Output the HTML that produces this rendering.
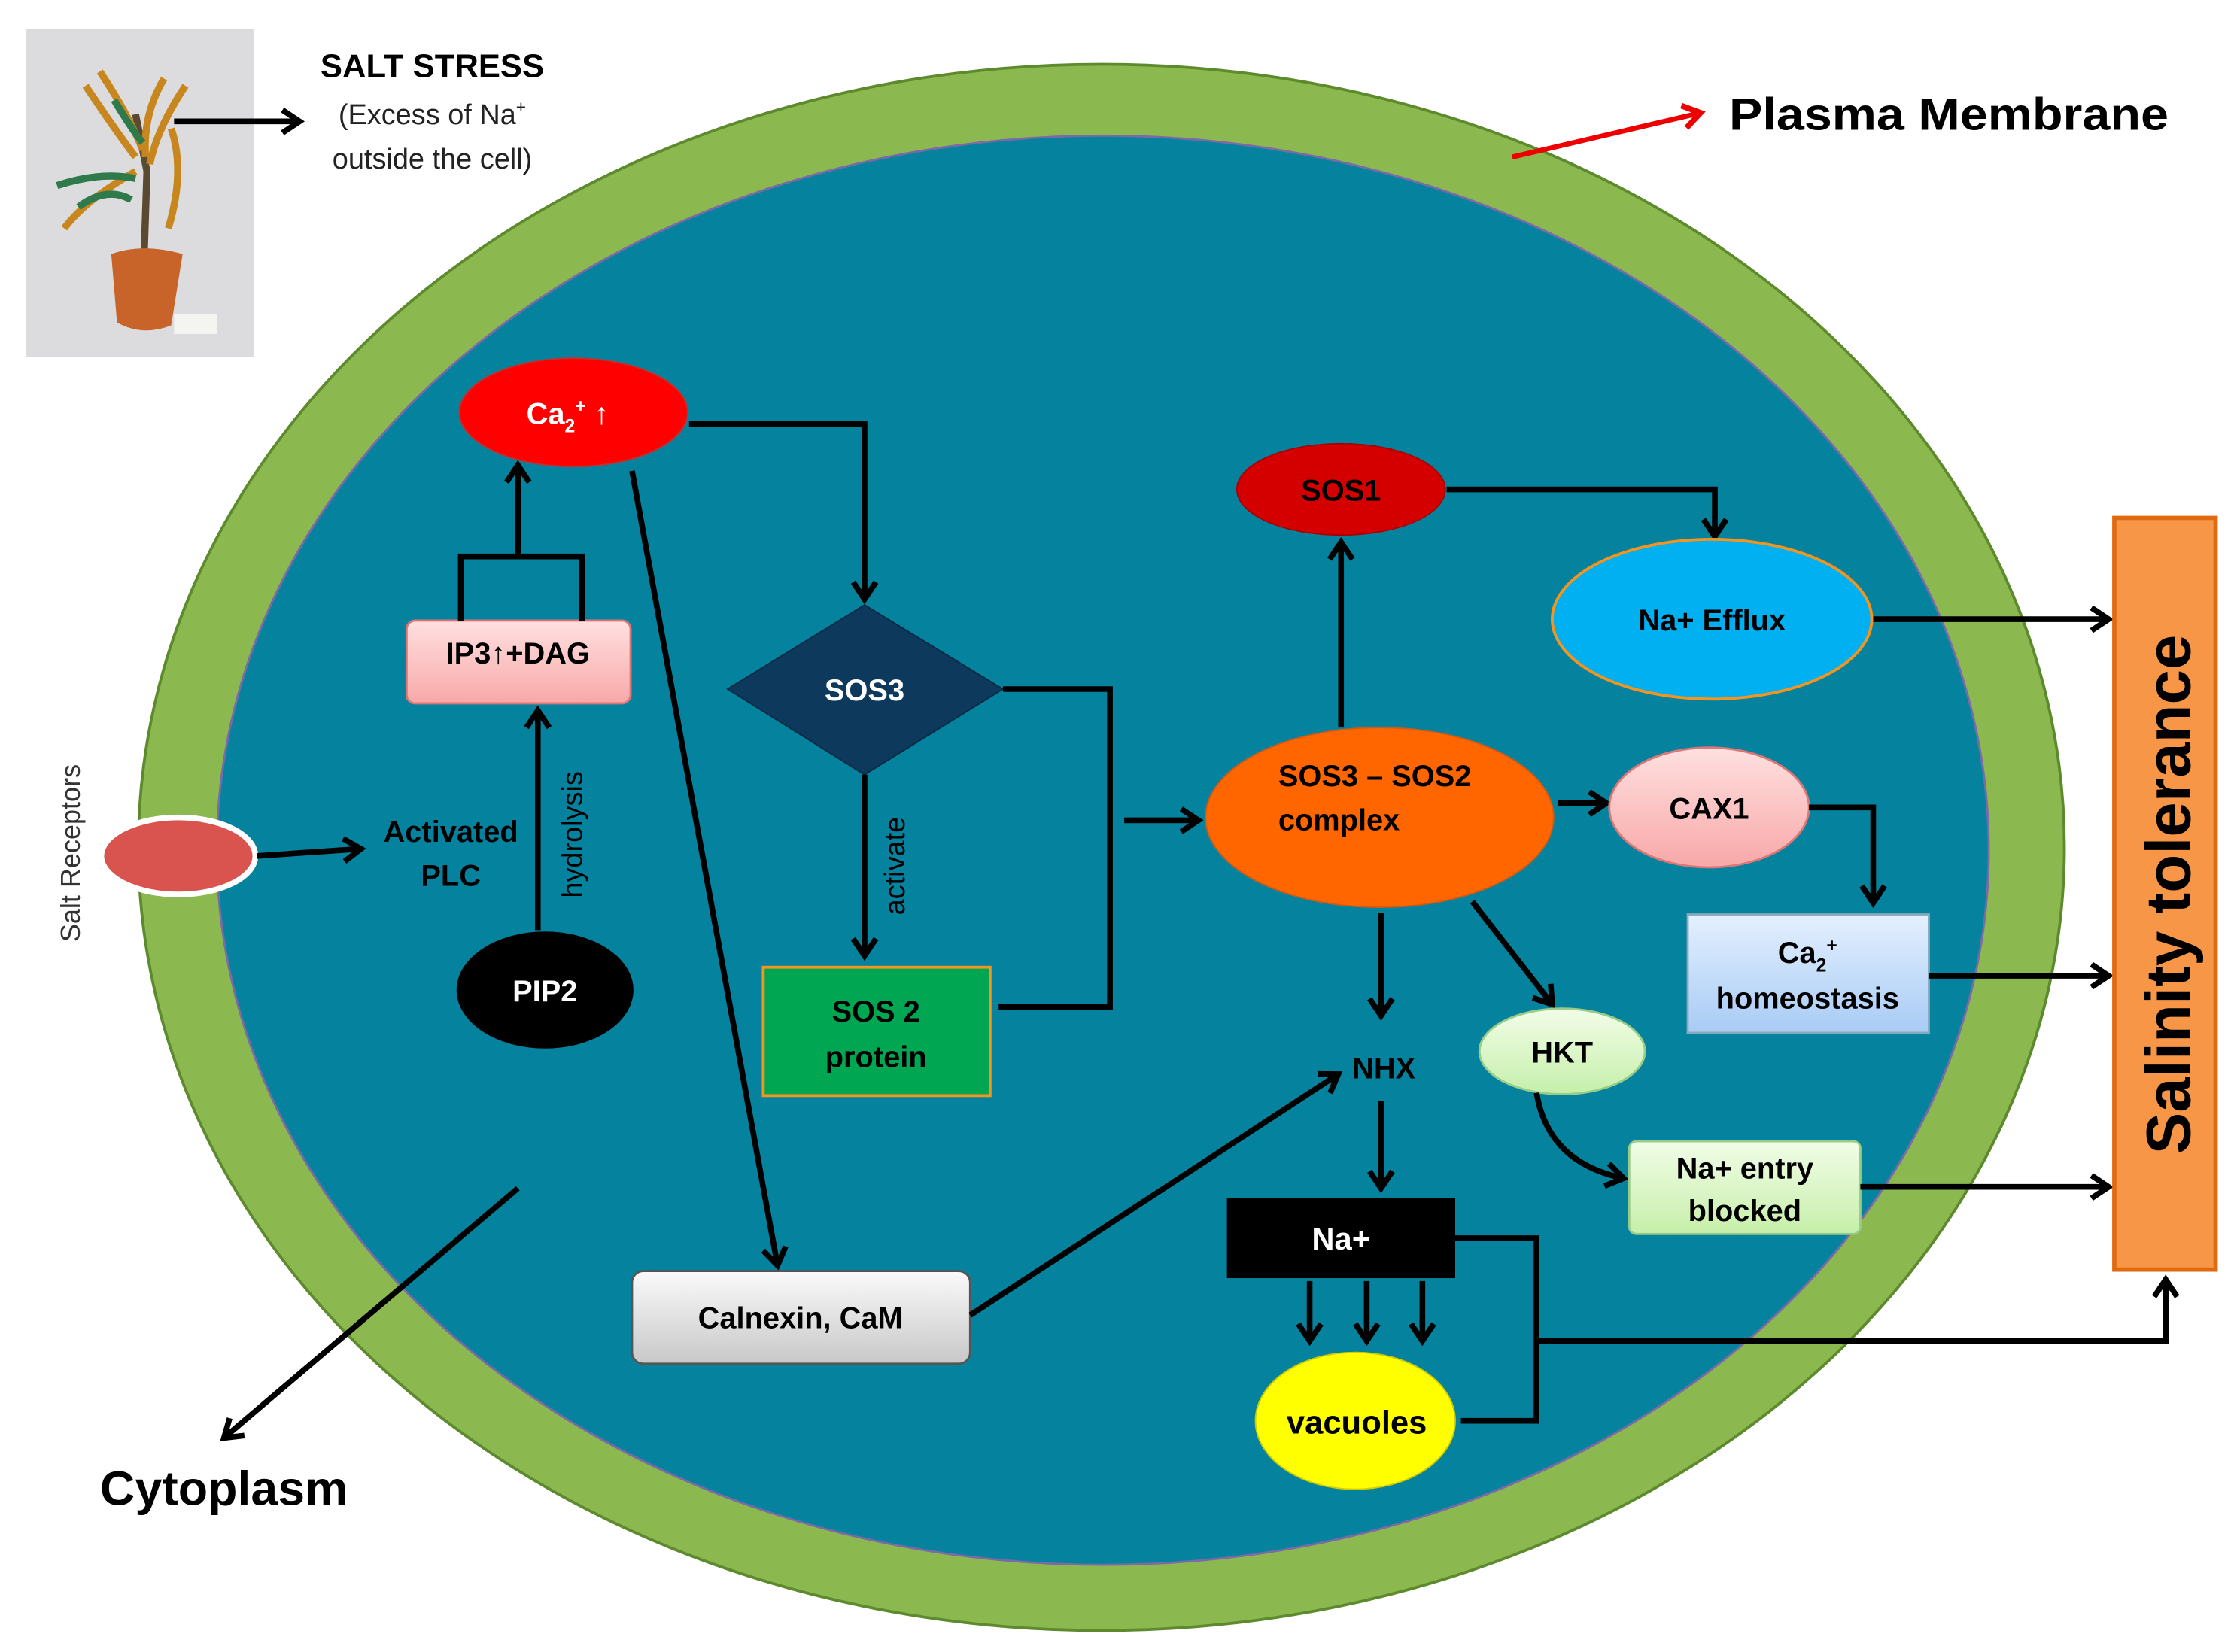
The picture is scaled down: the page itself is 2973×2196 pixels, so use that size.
<!DOCTYPE html>
<html><head><meta charset="utf-8"><style>
html,body{margin:0;padding:0;background:#fff}
svg{display:block}
text{font-family:"Liberation Sans",sans-serif}
</style></head><body>
<svg width="2973" height="2196" viewBox="0 0 1568 1158" xmlns="http://www.w3.org/2000/svg">
<defs>
<marker id="ab" markerWidth="22" markerHeight="22" refX="18" refY="11" orient="auto" markerUnits="userSpaceOnUse"><path d="M6,3 L18,11 L6,19" fill="none" stroke="#000" stroke-width="4"/></marker>
<marker id="ar" markerWidth="22" markerHeight="22" refX="18" refY="11" orient="auto" markerUnits="userSpaceOnUse"><path d="M6,3 L18,11 L6,19" fill="none" stroke="#e00" stroke-width="4"/></marker>
<linearGradient id="pk" x1="0" y1="0" x2="0" y2="1"><stop offset="0" stop-color="#ffe0e0"/><stop offset="1" stop-color="#f8a8a8"/></linearGradient>
<linearGradient id="gy" x1="0" y1="0" x2="0" y2="1"><stop offset="0" stop-color="#fafafa"/><stop offset="1" stop-color="#c8c8c8"/></linearGradient>
<linearGradient id="lb" x1="0" y1="0" x2="0" y2="1"><stop offset="0" stop-color="#e4f0ff"/><stop offset="1" stop-color="#a8cbf5"/></linearGradient>
<linearGradient id="lg" x1="0" y1="0" x2="0" y2="1"><stop offset="0" stop-color="#f2fde8"/><stop offset="1" stop-color="#c6efaa"/></linearGradient>
</defs>

<!-- plant photo -->
<rect x="18" y="20" width="160" height="230" fill="#dcdcde"/>
<path d="M100,210 L103,120 L95,80" stroke="#5a4a30" stroke-width="5" fill="none"/>
<path d="M78,178 Q100,170 128,178 L120,228 Q100,236 82,226 Z" fill="#c8642a"/>
<path d="M60,60 Q80,90 95,110 M70,50 Q90,80 100,105 M115,55 Q100,80 102,110 M130,60 Q110,90 105,115 M120,90 Q130,120 118,160 M95,120 Q60,140 45,160" stroke="#c8871e" stroke-width="5" fill="none"/>
<path d="M40,130 Q70,120 95,125 M55,145 Q75,130 92,140 M80,70 Q92,90 100,100" stroke="#2e7a4a" stroke-width="5" fill="none"/>
<rect x="122" y="220" width="30" height="14" fill="#f4f4f0"/>
<line x1="122" y1="85" x2="210" y2="85" stroke="#000" stroke-width="4" marker-end="url(#ab)"/>
<text x="303" y="54" font-size="23" font-weight="bold" text-anchor="middle">SALT STRESS</text>
<text x="303" y="87" font-size="20" text-anchor="middle" fill="#222">(Excess of Na<tspan font-size="12" dy="-8">+</tspan></text>
<text x="303" y="118" font-size="20" text-anchor="middle" fill="#222">outside the cell)</text>

<!-- cell -->
<ellipse cx="772" cy="594" rx="675" ry="549" fill="#8cb94f" stroke="#5e8a2e" stroke-width="2"/>
<ellipse cx="773" cy="596" rx="621" ry="501" fill="#05839e" stroke="#7a6aa8" stroke-width="1.5"/>

<!-- plasma membrane -->
<line x1="1060" y1="110" x2="1192" y2="79" stroke="#e00" stroke-width="3.5" marker-end="url(#ar)"/>
<text x="1212" y="91" font-size="32" font-weight="bold" textLength="308" lengthAdjust="spacingAndGlyphs">Plasma Membrane</text>

<!-- salt receptors -->
<text transform="translate(56,598) rotate(-90)" font-size="19" text-anchor="middle" fill="#333">Salt Receptors</text>
<ellipse cx="125" cy="600" rx="54" ry="27" fill="#d9534f" stroke="#fff" stroke-width="4"/>
<line x1="180" y1="600" x2="253" y2="595" stroke="#000" stroke-width="4" marker-end="url(#ab)"/>
<text x="316" y="590" font-size="21" font-weight="bold" text-anchor="middle">Activated</text>
<text x="316" y="621" font-size="21" font-weight="bold" text-anchor="middle">PLC</text>

<!-- PIP2 -->
<ellipse cx="382" cy="694" rx="62" ry="41" fill="#000"/>
<text x="382" y="702" font-size="21" font-weight="bold" fill="#fff" text-anchor="middle">PIP2</text>
<line x1="377" y1="652" x2="377" y2="498" stroke="#000" stroke-width="4" marker-end="url(#ab)"/>
<text transform="translate(408,585) rotate(-90)" font-size="20" text-anchor="middle" fill="#000">hydrolysis</text>

<!-- IP3 -->
<rect x="285" y="435" width="157" height="58" rx="6" fill="url(#pk)" stroke="#d77" stroke-width="1.5"/>
<text x="363" y="465" font-size="21" font-weight="bold" text-anchor="middle">IP3↑+DAG</text>
<path d="M323,435 V390 H408 V435" fill="none" stroke="#000" stroke-width="4"/>
<line x1="363" y1="390" x2="363" y2="326" stroke="#000" stroke-width="4" marker-end="url(#ab)"/>

<!-- Ca2+ -->
<ellipse cx="402" cy="289" rx="80" ry="38" fill="#f00" stroke="#b33" stroke-width="1"/>
<text x="398" y="297" font-size="21" font-weight="bold" fill="#fff" text-anchor="middle">Ca<tspan font-size="13" dy="6">2</tspan><tspan font-size="13" dy="-14">+</tspan><tspan dy="8"> ↑</tspan></text>
<path d="M483,297 H606 V420" fill="none" stroke="#000" stroke-width="4" marker-end="url(#ab)"/>
<line x1="443" y1="330" x2="545" y2="887" stroke="#000" stroke-width="4" marker-end="url(#ab)"/>

<!-- SOS3 -->
<polygon points="510,483 606,424 703,483 606,543" fill="#0d3a5c" stroke="#0a2a44" stroke-width="1"/>
<text x="606" y="491" font-size="21" font-weight="bold" fill="#fff" text-anchor="middle">SOS3</text>
<line x1="606" y1="543" x2="606" y2="670" stroke="#000" stroke-width="4" marker-end="url(#ab)"/>
<text transform="translate(634,607) rotate(-90)" font-size="20" text-anchor="middle">activate</text>
<rect x="535" y="678" width="159" height="90" fill="#00a651" stroke="#f7941d" stroke-width="2"/>
<text x="614" y="716" font-size="21" font-weight="bold" text-anchor="middle">SOS 2</text>
<text x="614" y="748" font-size="21" font-weight="bold" text-anchor="middle">protein</text>
<path d="M703,483 H778 V706 H700" fill="none" stroke="#000" stroke-width="4"/>
<line x1="788" y1="575" x2="840" y2="575" stroke="#000" stroke-width="4" marker-end="url(#ab)"/>

<!-- complex -->
<ellipse cx="967" cy="573" rx="122" ry="63" fill="#ff6600" stroke="#d45a10" stroke-width="1"/>
<text x="896" y="551" font-size="21" font-weight="bold">SOS3 – SOS2</text>
<text x="896" y="582" font-size="21" font-weight="bold">complex</text>
<line x1="940" y1="510" x2="940" y2="380" stroke="#000" stroke-width="4" marker-end="url(#ab)"/>
<ellipse cx="940" cy="343" rx="73" ry="32" fill="#d40000" stroke="#a00" stroke-width="1"/>
<text x="940" y="351" font-size="21" font-weight="bold" text-anchor="middle">SOS1</text>
<path d="M1014,343 H1202 V376" fill="none" stroke="#000" stroke-width="4" marker-end="url(#ab)"/>
<ellipse cx="1200" cy="434" rx="112" ry="56" fill="#00b0f0" stroke="#f7941d" stroke-width="2"/>
<text x="1200" y="442" font-size="21" font-weight="bold" text-anchor="middle">Na+ Efflux</text>
<line x1="1313" y1="434" x2="1478" y2="434" stroke="#000" stroke-width="4" marker-end="url(#ab)"/>

<line x1="1092" y1="563" x2="1126" y2="563" stroke="#000" stroke-width="4" marker-end="url(#ab)"/>
<ellipse cx="1198" cy="566" rx="70" ry="42" fill="url(#pk)" stroke="#d77" stroke-width="1.5"/>
<text x="1198" y="574" font-size="21" font-weight="bold" text-anchor="middle">CAX1</text>
<path d="M1268,566 H1313 V633" fill="none" stroke="#000" stroke-width="4" marker-end="url(#ab)"/>
<rect x="1183" y="641" width="169" height="83" fill="url(#lb)" stroke="#8ab" stroke-width="1.5"/>
<text x="1267" y="675" font-size="21" font-weight="bold" text-anchor="middle">Ca<tspan font-size="13" dy="6">2</tspan><tspan font-size="13" dy="-14">+</tspan></text>
<text x="1267" y="707" font-size="21" font-weight="bold" text-anchor="middle">homeostasis</text>
<line x1="1352" y1="684" x2="1478" y2="684" stroke="#000" stroke-width="4" marker-end="url(#ab)"/>

<line x1="968" y1="640" x2="968" y2="712" stroke="#000" stroke-width="4" marker-end="url(#ab)"/>
<text x="970" y="756" font-size="21" font-weight="bold" text-anchor="middle">NHX</text>
<line x1="1032" y1="632" x2="1088" y2="704" stroke="#000" stroke-width="4" marker-end="url(#ab)"/>
<ellipse cx="1095" cy="737" rx="58" ry="30" fill="url(#lg)" stroke="#9c8" stroke-width="1.5"/>
<text x="1095" y="745" font-size="21" font-weight="bold" text-anchor="middle">HKT</text>
<path d="M1077,766 Q1085,815 1138,826" fill="none" stroke="#000" stroke-width="4" marker-end="url(#ab)"/>
<rect x="1142" y="800" width="162" height="65" rx="5" fill="url(#lg)" stroke="#9c8" stroke-width="1.5"/>
<text x="1223" y="826" font-size="21" font-weight="bold" text-anchor="middle">Na+ entry</text>
<text x="1223" y="856" font-size="21" font-weight="bold" text-anchor="middle">blocked</text>
<line x1="1304" y1="832" x2="1478" y2="832" stroke="#000" stroke-width="4" marker-end="url(#ab)"/>

<!-- salinity tolerance -->
<rect x="1482" y="363" width="71" height="527" fill="#f79646" stroke="#e06a10" stroke-width="3"/>
<text transform="translate(1535,627) rotate(-90)" font-size="44" font-weight="bold" text-anchor="middle">Salinity tolerance</text>

<!-- Na+ / vacuoles -->
<line x1="968" y1="772" x2="968" y2="833" stroke="#000" stroke-width="4" marker-end="url(#ab)"/>
<rect x="860" y="840" width="160" height="56" fill="#000"/>
<text x="940" y="876" font-size="22" font-weight="bold" fill="#fff" text-anchor="middle">Na+</text>
<line x1="918" y1="898" x2="918" y2="940" stroke="#000" stroke-width="4" marker-end="url(#ab)"/>
<line x1="958" y1="898" x2="958" y2="940" stroke="#000" stroke-width="4" marker-end="url(#ab)"/>
<line x1="997" y1="898" x2="997" y2="940" stroke="#000" stroke-width="4" marker-end="url(#ab)"/>
<ellipse cx="950" cy="996" rx="70" ry="48" fill="#ffff00" stroke="#cc0" stroke-width="1"/>
<text x="951" y="1005" font-size="23" font-weight="bold" text-anchor="middle">vacuoles</text>
<path d="M1020,868 H1077 V996 H1024" fill="none" stroke="#000" stroke-width="4"/>
<path d="M1077,940 H1518 V897" fill="none" stroke="#000" stroke-width="4" marker-end="url(#ab)"/>

<!-- calnexin -->
<rect x="443" y="891" width="237" height="65" rx="8" fill="url(#gy)" stroke="#555" stroke-width="1.5"/>
<text x="561" y="931" font-size="21" font-weight="bold" text-anchor="middle">Calnexin, CaM</text>
<line x1="680" y1="922" x2="938" y2="753" stroke="#000" stroke-width="4" marker-end="url(#ab)"/>

<!-- cytoplasm -->
<line x1="363" y1="833" x2="157" y2="1008" stroke="#000" stroke-width="4" marker-end="url(#ab)"/>
<text x="157" y="1055" font-size="34" font-weight="bold" text-anchor="middle">Cytoplasm</text>
</svg>
</body></html>
